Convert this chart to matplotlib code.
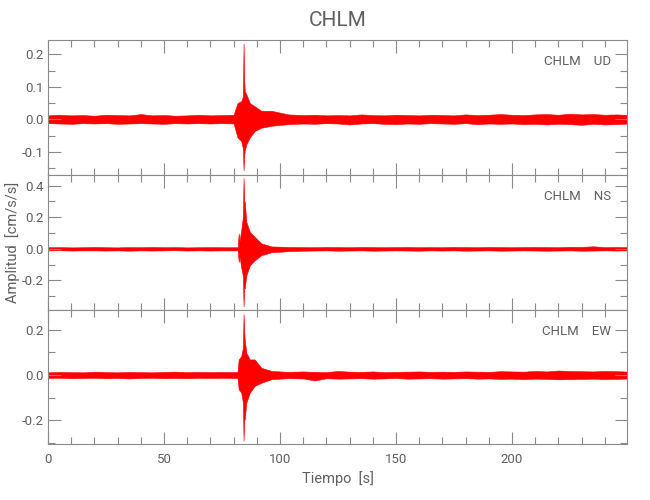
import numpy as np
import matplotlib
matplotlib.use('Agg')
import matplotlib.pyplot as plt
from matplotlib.ticker import MultipleLocator

station = 'CHLM'
components = ['UD', 'NS', 'EW']

# envelope of each trace: time [s], upper, lower
t_ud = [0, 5, 10, 15, 20, 25, 30, 35, 40, 45, 50, 55, 60, 65, 70, 75, 80, 81.7,
        83.3, 84.0, 84.3, 84.6, 84.8, 85.5, 87.0, 89.1, 92.0, 96.4, 103.6,
        110, 115, 120, 125, 130, 135, 140, 145, 150, 155, 160, 165, 170, 175,
        180, 185, 190, 195, 200, 205, 210, 215, 220, 225, 230, 235, 240, 245, 251]
hi_ud = [0.012, 0.014, 0.012, 0.013, 0.011, 0.014, 0.013, 0.012, 0.016, 0.012, 0.013, 0.011, 0.012, 0.014,
         0.012, 0.013, 0.014, 0.05,
         0.056, 0.07, 0.233, 0.12, 0.087, 0.077, 0.05, 0.04, 0.026, 0.026, 0.015,
         0.013, 0.014, 0.012, 0.013, 0.012, 0.015, 0.013, 0.012, 0.014, 0.013, 0.012, 0.014, 0.013, 0.012,
         0.015, 0.013, 0.014, 0.016, 0.014, 0.013, 0.015, 0.016, 0.014, 0.017, 0.015, 0.016, 0.014, 0.015, 0.013]
lo_ud = [-0.012, -0.013, -0.014, -0.012, -0.013, -0.012, -0.014, -0.013, -0.012, -0.013, -0.014, -0.012,
         -0.013, -0.012, -0.013, -0.012, -0.013, -0.056,
         -0.067, -0.09, -0.157, -0.11, -0.097, -0.077, -0.056, -0.036, -0.026, -0.02, -0.015,
         -0.013, -0.014, -0.012, -0.013, -0.016, -0.013, -0.012, -0.014, -0.015, -0.013, -0.014, -0.012,
         -0.013, -0.014, -0.012, -0.015, -0.013, -0.014, -0.013, -0.015, -0.014, -0.016, -0.014, -0.015,
         -0.017, -0.014, -0.016, -0.015, -0.013]

t_ns = [0, 5, 10, 15, 20, 25, 30, 35, 40, 45, 50, 55, 60, 65, 70, 75, 80, 81.8, 82.2, 82.6,
        83.3, 84.0, 84.3, 84.6, 84.8, 85.5, 87.0, 89.1, 92.0, 96.4, 103.6,
        110, 115, 120, 125, 130, 135, 140, 145, 150, 155, 160, 165, 170, 175,
        180, 185, 190, 195, 200, 205, 210, 215, 220, 225, 230, 235, 240, 245, 251]
hi_ns = [0.010, 0.011, 0.009, 0.010, 0.012, 0.010, 0.009, 0.011, 0.010, 0.012, 0.010, 0.011, 0.009, 0.010,
         0.011, 0.010, 0.010, 0.010, 0.097, 0.05,
         0.12, 0.2, 0.448, 0.3, 0.3, 0.17, 0.108, 0.076, 0.034, 0.015, 0.012,
         0.011, 0.010, 0.012, 0.011, 0.010, 0.012, 0.011, 0.010, 0.011, 0.012, 0.010, 0.011, 0.010, 0.012,
         0.011, 0.010, 0.012, 0.011, 0.010, 0.011, 0.012, 0.011, 0.010, 0.013, 0.012, 0.016, 0.011, 0.012, 0.010]
lo_ns = [-0.010, -0.009, -0.011, -0.010, -0.010, -0.011, -0.010, -0.012, -0.010, -0.011, -0.010, -0.009,
         -0.011, -0.010, -0.011, -0.010, -0.010, -0.010, -0.083, -0.05,
         -0.12, -0.17, -0.364, -0.25, -0.25, -0.168, -0.105, -0.073, -0.04, -0.022, -0.015,
         -0.012, -0.011, -0.010, -0.012, -0.011, -0.010, -0.012, -0.011, -0.010, -0.011, -0.012, -0.010,
         -0.011, -0.010, -0.012, -0.011, -0.010, -0.012, -0.011, -0.010, -0.011, -0.012, -0.011, -0.010,
         -0.012, -0.011, -0.010, -0.011, -0.010]

t_ew = [0, 5, 10, 15, 20, 25, 30, 35, 40, 45, 50, 55, 60, 65, 70, 75, 80, 81.7, 82.2,
        83.3, 84.0, 84.3, 84.6, 84.8, 85.5, 87.0, 89.1, 92.0, 96.4, 103.6,
        110, 115, 120, 125, 130, 135, 140, 145, 150, 155, 160, 165, 170, 175,
        180, 185, 190, 195, 200, 205, 210, 215, 220, 225, 230, 235, 240, 245, 251]
hi_ew = [0.012, 0.014, 0.013, 0.012, 0.015, 0.013, 0.012, 0.014, 0.013, 0.012, 0.014, 0.015, 0.013, 0.014,
         0.013, 0.014, 0.013, 0.014, 0.069,
         0.084, 0.12, 0.269, 0.19, 0.157, 0.098, 0.069, 0.069, 0.032, 0.018, 0.014,
         0.016, 0.014, 0.013, 0.018, 0.015, 0.014, 0.016, 0.013, 0.014, 0.015, 0.016, 0.014, 0.015, 0.014,
         0.016, 0.015, 0.014, 0.017, 0.016, 0.015, 0.018, 0.016, 0.020, 0.018, 0.017, 0.016, 0.018, 0.017, 0.015]
lo_ew = [-0.013, -0.012, -0.014, -0.013, -0.012, -0.014, -0.013, -0.015, -0.013, -0.012, -0.014, -0.013,
         -0.014, -0.012, -0.013, -0.012, -0.013, -0.014, -0.063,
         -0.078, -0.12, -0.29, -0.2, -0.195, -0.122, -0.078, -0.048, -0.034, -0.018, -0.014,
         -0.015, -0.024, -0.014, -0.016, -0.015, -0.014, -0.016, -0.015, -0.013, -0.016, -0.015, -0.014,
         -0.016, -0.015, -0.014, -0.016, -0.015, -0.017, -0.016, -0.018, -0.016, -0.017, -0.019, -0.018,
         -0.017, -0.016, -0.018, -0.017, -0.015]

traces = [(t_ud, hi_ud, lo_ud), (t_ns, hi_ns, lo_ns), (t_ew, hi_ew, lo_ew)]
ylims = [(-0.171, 0.244), (-0.385, 0.468), (-0.307, 0.289)]
ymajor = [0.1, 0.2, 0.2]
yminor = [0.05, 0.1, 0.1]

txt = '#606060'
axc = '#8a8a8a'
plt.rcParams['font.family'] = ['Roboto', 'DejaVu Sans']

fig = plt.figure(figsize=(6.5, 5), dpi=100)
left, right = 48 / 650, 627 / 650
top, bottom = 1 - 40 / 500, 1 - 444.5 / 500
h = (top - bottom) / 3
axes = []
for i in range(3):
    ax = fig.add_axes([left, top - (i + 1) * h, right - left, h])
    t, hi, lo = traces[i]
    ax.fill_between(t, lo, hi, color='red', lw=0.4, edgecolor='red')
    ax.set_xlim(0, 249.6)
    ax.set_ylim(*ylims[i])
    ax.xaxis.set_major_locator(MultipleLocator(50))
    ax.xaxis.set_minor_locator(MultipleLocator(10))
    ax.yaxis.set_major_locator(MultipleLocator(ymajor[i]))
    ax.yaxis.set_minor_locator(MultipleLocator(yminor[i]))
    ax.tick_params(which='both', direction='in', top=True, right=True, color=axc,
                   labelcolor=txt, labelsize=9.5, width=0.8)
    ax.tick_params(which='major', length=9)
    ax.tick_params(which='minor', length=5)
    ax.tick_params(axis='y', pad=3)
    ax.tick_params(axis='x', pad=6)
    ax.yaxis.set_major_formatter(plt.FuncFormatter(lambda v, p: '%.1f' % v if abs(v) > 1e-9 else '0.0'))
    for s in ax.spines.values():
        s.set_color(axc)
        s.set_linewidth(0.8)
    if i < 2:
        ax.tick_params(axis='x', labelbottom=False)
    ax.text(0.972, 0.837, station + '    ' + components[i], transform=ax.transAxes,
            ha='right', va='center', color=txt, fontsize=9.5)
    axes.append(ax)

axes[2].set_xlabel('Tiempo  [s]', color=txt, fontsize=10.5, labelpad=4)
fig.text(0.019, (top + bottom) / 2, 'Amplitud  [cm/s/s]', rotation=90, color=txt,
         fontsize=10.5, ha='center', va='center')
fig.text((left + right) / 2, 1 - 20 / 500, station, color=txt, fontsize=15,
         ha='center', va='center')

fig.savefig('out.png', dpi=100)
